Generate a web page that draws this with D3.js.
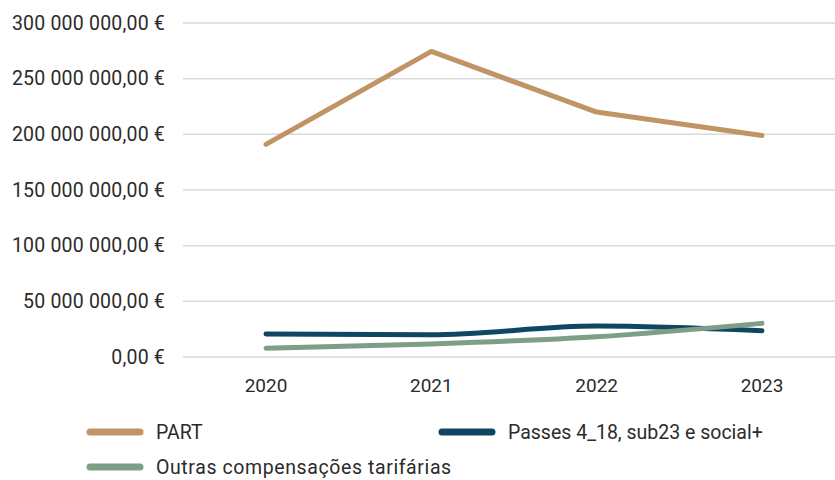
<!DOCTYPE html>
<html>
<head>
<meta charset="utf-8">
<script src="https://cdn.jsdelivr.net/npm/d3@7"></script>
<style>
  body { margin: 0; background: #fff; }
  text { font-family: Roboto, "Open Sans", sans-serif; fill: #2b2b2b; }
</style>
</head>
<body>
<script>
var years = ['2020', '2021', '2022', '2023'];
var part = [191000000, 274500000, 220000000, 199000000];
var passes = [20600000, 20000000, 27800000, 23600000];
var outras = [7800000, 11700000, 18200000, 30200000];
var yTicks = [0, 50000000, 100000000, 150000000, 200000000, 250000000, 300000000];

var series = [
  {name: 'PART', values: part, color: '#c09464', curve: d3.curveLinear},
  {name: 'Passes 4_18, sub23 e social+', values: passes, color: '#0f4662', curve: d3.curveMonotoneX},
  {name: 'Outras compensações tarifárias', values: outras, color: '#7c9f86', curve: d3.curveMonotoneX}
];

var svg = d3.select('body').append('svg')
  .attr('width', 835)
  .attr('height', 480);

var x = d3.scalePoint()
  .domain(years)
  .range([266, 762]);

var y = d3.scaleLinear()
  .domain([0, 300000000])
  .range([357, 23]);

function euro(v) {
  var s = d3.format(',.2f')(v);
  return s.replace(/,/g, ' ').replace('.', ',') + ' €';
}

// grid
svg.append('g').selectAll('line')
  .data(yTicks)
  .enter().append('line')
  .attr('x1', 183)
  .attr('x2', 835)
  .attr('y1', function(d){ return y(d); })
  .attr('y2', function(d){ return y(d); })
  .attr('stroke', '#d9d9d9')
  .attr('stroke-width', 1.5);

// y labels
svg.append('g').selectAll('text')
  .data(yTicks)
  .enter().append('text')
  .attr('x', 165)
  .attr('y', function(d){ return y(d); })
  .attr('text-anchor', 'end')
  .attr('dominant-baseline', 'central')
  .attr('font-size', 19.5)
  .attr('letter-spacing', 0.2)
  .text(euro);

// x labels
svg.append('g').selectAll('text')
  .data(years)
  .enter().append('text')
  .attr('x', function(d){ return x(d); })
  .attr('y', 385)
  .attr('text-anchor', 'middle')
  .attr('dominant-baseline', 'central')
  .attr('font-size', 19)
  .text(function(d){ return d; });

// lines
series.forEach(function(s) {
  var line = d3.line()
    .x(function(d, i){ return x(years[i]); })
    .y(function(d){ return y(d); })
    .curve(s.curve);
  svg.append('path')
    .datum(s.values)
    .attr('fill', 'none')
    .attr('stroke', s.color)
    .attr('stroke-width', 5)
    .attr('stroke-linecap', 'round')
    .attr('stroke-linejoin', 'round')
    .attr('d', line);
});

// legend
var legendPos = [[90, 432], [442, 432], [90, 467]];
var legend = svg.append('g').selectAll('g')
  .data(series)
  .enter().append('g')
  .attr('transform', function(d, i){ return 'translate(' + legendPos[i][0] + ',' + legendPos[i][1] + ')'; });

legend.append('line')
  .attr('x1', 0)
  .attr('x2', 50)
  .attr('stroke', function(d){ return d.color; })
  .attr('stroke-width', 7)
  .attr('stroke-linecap', 'round');

legend.append('text')
  .attr('x', 66)
  .attr('dominant-baseline', 'central')
  .attr('font-size', 19.5)
  .attr('letter-spacing', function(d, i){ return i === 2 ? 0.6 : 0; })
  .text(function(d){ return d.name; });
</script>
</body>
</html>
